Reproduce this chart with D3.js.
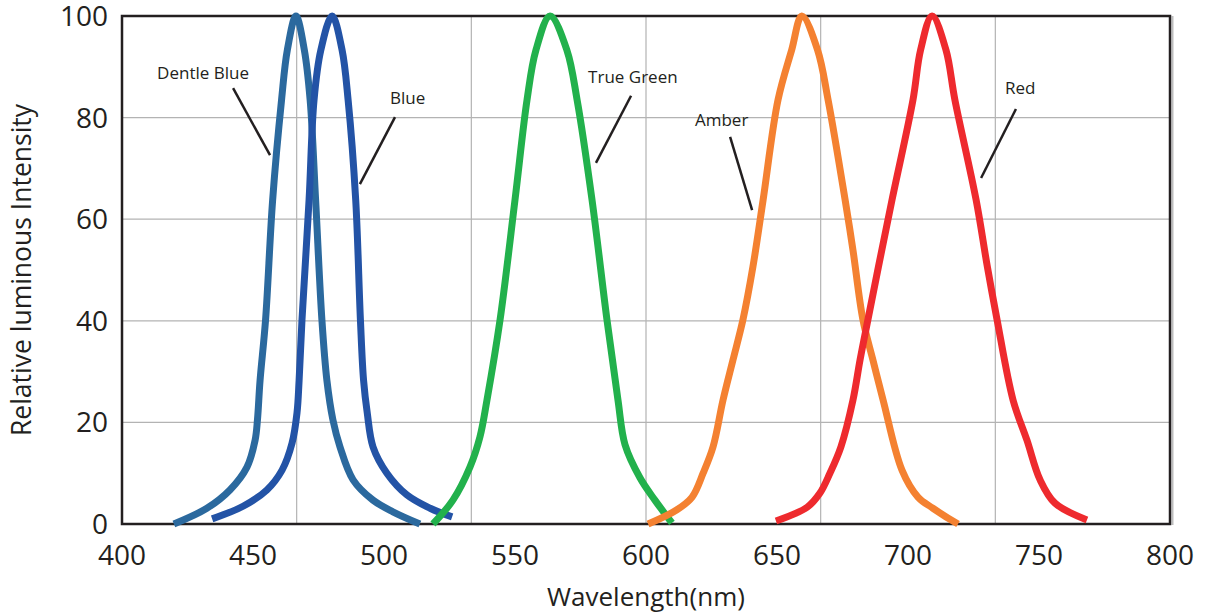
<!DOCTYPE html>
<html>
<head>
<meta charset="utf-8">
<script src="https://cdn.jsdelivr.net/npm/d3@7"></script>
<style>
    body { margin: 0; background: #fff; }
    text { font-family: "Open Sans", "Noto Sans", sans-serif; fill: #231f20; }
</style>
</head>
<body>
<div id="chart"></div>
<script>
// spectra: wavelength (nm) and relative intensity (%) for each LED
const dentleBlueNm  = [419.8, 432.4, 441.2, 447.7, 450.8, 451.7, 452.7, 454.8, 457.5, 460.9, 463.1, 466.4, 469.6, 471.8, 473.9, 476.3, 478.2, 480.5, 483.2, 488.2, 495.8, 503.4, 513.7];
const dentleBlueVal = [0, 3.1, 6.7, 11.2, 16.5, 20.5, 28.3, 40.2, 63.8, 83.5, 93.3, 100, 93.3, 83.5, 63.8, 40.2, 28.3, 20.5, 15.2, 8.7, 4.7, 2.4, 0];

const blueNm  = [434.4, 446.2, 455.3, 461.1, 464.9, 466.8, 467.6, 468.7, 471.4, 473.3, 475.9, 480.2, 484.0, 486.3, 489.2, 491.0, 492.2, 493.6, 495.8, 501.1, 508.8, 517.6, 526.0];
const blueVal = [1.0, 3.5, 6.7, 10.6, 15.9, 21.9, 28.3, 40.2, 63.8, 83.5, 93.3, 100, 93.3, 83.5, 63.8, 40.2, 28.3, 21.9, 15.2, 10.0, 5.7, 3.1, 1.4];

const greenNm  = [518.7, 526.3, 532.8, 536.6, 539.3, 544.3, 550.0, 554.6, 558.0, 563.4, 569.8, 573.7, 579.4, 585.1, 589.3, 592.0, 597.7, 603.4, 609.9];
const greenVal = [0, 4.7, 11.2, 17.1, 24.4, 40.2, 63.8, 83.5, 93.3, 100, 93.3, 83.5, 63.8, 40.2, 24.4, 15.6, 9.1, 4.7, 0.2];

const amberNm  = [600.8, 611.8, 617.6, 621.8, 625.6, 629.4, 633.2, 637.0, 640.8, 644.7, 650.4, 655.6, 659.5, 665.5, 669.5, 676.0, 679.0, 682.8, 686.6, 690.5, 697.7, 703.8, 709.5, 719.1];
const amberVal = [0, 2.8, 5.3, 10.0, 15.2, 24.4, 32.3, 40.2, 50.6, 63.8, 83.5, 93.3, 100, 93.3, 83.5, 63.8, 53.9, 40.2, 32.3, 24.4, 10.6, 5.3, 3.1, 0];

const redNm  = [649.6, 661.5, 666.4, 670.2, 674.4, 679.0, 681.7, 684.7, 688.7, 693.9, 701.9, 704.8, 709.2, 714.5, 717.9, 726.0, 730.3, 734.0, 740.1, 745.4, 750.4, 756.1, 768.3];
const redVal = [0.6, 3.3, 6.1, 10.0, 15.2, 24.4, 32.3, 40.2, 50.6, 63.8, 83.5, 93.3, 100, 93.3, 83.5, 63.8, 50.6, 40.2, 24.4, 16.5, 8.7, 4.1, 0.8];

const xTicks = [400, 450, 500, 550, 600, 650, 700, 750, 800];
const yTicks = [0, 20, 40, 60, 80, 100];

// label text anchor and leader line ends, in data units
const labelNames = ["Dentle Blue", "Blue", "True Green", "Amber", "Red"];
const labelPos   = [[413.4, 87.6], [502.3, 82.7], [577.9, 86.8], [618.7, 78.3], [737.0, 84.6]];
const leaderFrom = [[442.4, 85.8], [504.2, 80.1], [594.3, 84.3], [632.1, 76.2], [741.2, 81.7]];
const leaderTo   = [[456.5, 72.6], [490.8, 66.9], [580.9, 71.1], [640.5, 61.8], [727.9, 68.1]];

let width = 1208, height = 616,
    margin = { top: 16, right: 38, bottom: 92, left: 122 };

let series = [
    { nm: dentleBlueNm, val: dentleBlueVal, color: "#2b699e" },
    { nm: blueNm, val: blueVal, color: "#2353a6" },
    { nm: greenNm, val: greenVal, color: "#22b14c" },
    { nm: amberNm, val: amberVal, color: "#f48131" },
    { nm: redNm, val: redVal, color: "#ee2a2e" }
];

let svg = d3.select("#chart")
    .append("svg")
    .attr("width", width)
    .attr("height", height);

let x = d3.scaleLinear().domain([400, 800]).range([margin.left, width - margin.right]);
let y = d3.scaleLinear().domain([0, 100]).range([height - margin.bottom, margin.top]);

// grid: 6 columns across the plot, one row per y tick
let gridX = d3.range(1, 6).map(i => 400 + i * 400 / 6);
svg.append("g")
    .selectAll("line.gx")
    .data(gridX)
    .enter()
    .append("line")
    .attr("x1", d => x(d)).attr("x2", d => x(d))
    .attr("y1", y(100)).attr("y2", y(0))
    .attr("stroke", "#b3b3b3")
    .attr("stroke-width", 1.2);

svg.append("g")
    .selectAll("line.gy")
    .data(yTicks.slice(1, -1))
    .enter()
    .append("line")
    .attr("x1", x(400)).attr("x2", x(800))
    .attr("y1", d => y(d)).attr("y2", d => y(d))
    .attr("stroke", "#b3b3b3")
    .attr("stroke-width", 1.2);

// frame
svg.append("line")
    .attr("x1", x(800) + 2.5).attr("x2", x(800) + 2.5)
    .attr("y1", y(100)).attr("y2", y(0) + 1)
    .attr("stroke", "#bdbdbd")
    .attr("stroke-width", 2);
svg.append("rect")
    .attr("x", x(400))
    .attr("y", y(100))
    .attr("width", x(800) - x(400))
    .attr("height", y(0) - y(100))
    .attr("fill", "none")
    .attr("stroke", "#231f20")
    .attr("stroke-width", 2.5);

// tick labels
svg.append("g")
    .selectAll("text")
    .data(xTicks)
    .enter()
    .append("text")
    .attr("x", d => x(d))
    .attr("y", y(0) + 41)
    .attr("text-anchor", "middle")
    .style("font-size", "28px")
    .text(d => d);

svg.append("g")
    .selectAll("text")
    .data(yTicks)
    .enter()
    .append("text")
    .attr("x", x(400) - 14)
    .attr("y", d => y(d) + 10)
    .attr("text-anchor", "end")
    .style("font-size", "28px")
    .text(d => d);

// axis titles
svg.append("text")
    .attr("x", (x(400) + x(800)) / 2)
    .attr("y", height - 10)
    .attr("text-anchor", "middle")
    .style("font-size", "26px")
    .text("Wavelength(nm)");

svg.append("text")
    .attr("transform", "translate(31," + (y(0) + y(100)) / 2 + ") rotate(-90)")
    .attr("text-anchor", "middle")
    .style("font-size", "26.5px")
    .text("Relative luminous Intensity");

// spectral curves
let line = d3.line()
    .x(d => x(d[0]))
    .y(d => y(d[1]))
    .curve(d3.curveCatmullRom.alpha(0.5));

svg.append("g")
    .selectAll("path")
    .data(series)
    .enter()
    .append("path")
    .attr("d", s => line(d3.zip(s.nm, s.val)))
    .attr("fill", "none")
    .attr("stroke", s => s.color)
    .attr("stroke-width", 7)
    .attr("stroke-linejoin", "round")
    .attr("stroke-linecap", "butt");

// labels with leader lines
let labels = svg.append("g");
labelNames.forEach((name, i) => {
    labels.append("line")
        .attr("x1", x(leaderFrom[i][0])).attr("y1", y(leaderFrom[i][1]))
        .attr("x2", x(leaderTo[i][0])).attr("y2", y(leaderTo[i][1]))
        .attr("stroke", "#231f20")
        .attr("stroke-width", 2.5);
    labels.append("text")
        .attr("x", x(labelPos[i][0]))
        .attr("y", y(labelPos[i][1]))
        .style("font-size", "17px")
        .text(name);
});
</script>
</body>
</html>
